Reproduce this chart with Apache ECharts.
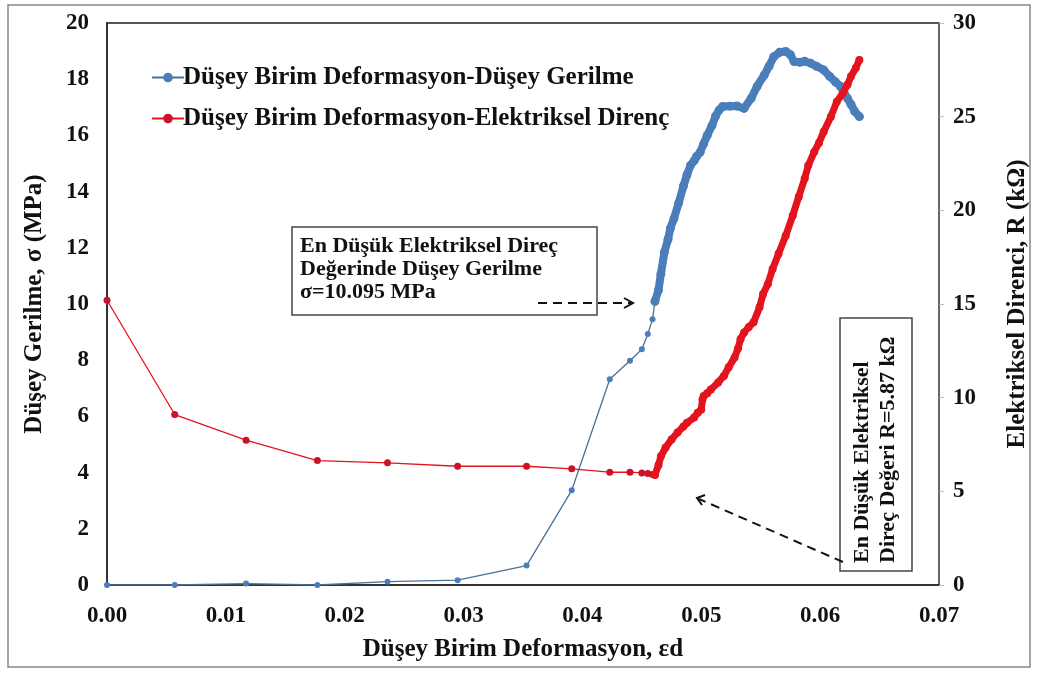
<!DOCTYPE html>
<html>
<head>
<meta charset="utf-8">
<script src="https://cdn.jsdelivr.net/npm/echarts@6/dist/echarts.min.js"></script>
<style>
  html, body { margin: 0; padding: 0; background: #fff; }
  #chart { width: 1038px; height: 678px; }
</style>
</head>
<body>
<div id="chart"></div>
<script>
// sparse readings (shared strain steps)
const strainLow = [0, 0.0057, 0.0117, 0.0177, 0.0236, 0.0295, 0.0353, 0.0391, 0.0423, 0.0440, 0.0450, 0.0455, 0.0459, 0.0461];
const stressLow = [0, 0, 0.05, 0, 0.12, 0.17, 0.69, 3.37, 7.32, 7.98, 8.39, 8.93, 9.46, 10.095];
const resistLow = [15.2, 9.1, 7.73, 6.64, 6.52, 6.34, 6.34, 6.2, 6.02, 6.02, 5.98, 5.95, 5.9, 5.87];

// dense readings after the minimum resistance
const strainStressHigh = [0.0461, 0.0464, 0.0466, 0.0469, 0.0472, 0.0474, 0.0477, 0.0481, 0.0485, 0.0488,
  0.0491, 0.0494, 0.0496, 0.0499, 0.0502, 0.0505, 0.0509, 0.0512, 0.0515, 0.0518, 0.0524, 0.0530, 0.0536,
  0.0542, 0.0547, 0.0553, 0.0557, 0.0561, 0.0566, 0.0571, 0.0575, 0.0578, 0.0583, 0.0587, 0.0592, 0.0597,
  0.0603, 0.0608, 0.0613, 0.0617, 0.0620, 0.0623, 0.0626, 0.0629, 0.0633];
const stressHigh = [10.095, 10.5, 11.07, 11.85, 12.3, 12.7, 13.04, 13.6, 14.2, 14.6,
  14.94, 15.1, 15.25, 15.4, 15.7, 16.0, 16.35, 16.68, 16.9, 17.03, 17.04, 17.05, 16.96,
  17.32, 17.75, 18.15, 18.46, 18.8, 18.96, 18.99, 18.87, 18.63, 18.6, 18.64, 18.57, 18.46,
  18.33, 18.1, 17.9, 17.75, 17.53, 17.32, 17.1, 16.86, 16.67];

const strainResistHigh = [0.0461, 0.0464, 0.0466, 0.0470, 0.0475, 0.0480, 0.0485, 0.0488, 0.0494, 0.0497,
  0.0500, 0.0501, 0.0502, 0.0505, 0.0508, 0.0514, 0.0519, 0.0523, 0.0528, 0.0531, 0.0533, 0.0536, 0.0540,
  0.0544, 0.0549, 0.0552, 0.0556, 0.0560, 0.0565, 0.0571, 0.0577, 0.0582, 0.0587, 0.0590, 0.0595, 0.0599,
  0.0603, 0.0609, 0.0614, 0.0619, 0.0623, 0.0626, 0.0630, 0.0633];
const resistHigh = [5.87, 6.4, 6.87, 7.34, 7.77, 8.14, 8.46, 8.66, 8.94, 9.2,
  9.37, 9.9, 10.09, 10.23, 10.44, 10.8, 11.16, 11.62, 12.14, 12.64, 13.12, 13.48, 13.77,
  14.02, 14.82, 15.53, 16.07, 16.87, 17.68, 18.64, 19.73, 20.73, 21.7, 22.39, 23.12, 23.6,
  24.2, 25.0, 25.8, 26.25, 26.7, 27.16, 27.6, 28.03];

const nameStress = 'Düşey Birim Deformasyon-Düşey Gerilme';
const nameResist = 'Düşey Birim Deformasyon-Elektriksel Direnç';
const blue = '#4a7ebb';
const red = '#e3141e';
const font = '"Liberation Serif", "Times New Roman", serif';

function zip(xs, ys) {
  return xs.map((x, i) => [x, ys[i]]);
}

const chart = echarts.init(document.getElementById('chart'));

const tickLabel = {fontFamily: font, fontWeight: 'bold', fontSize: 23, color: '#111'};
const axisName = {fontFamily: font, fontWeight: 'bold', fontSize: 25, color: '#111'};

chart.setOption({
  animation: false,
  backgroundColor: '#fff',
  grid: {left: 107, right: 96, top: 23, bottom: 93, show: true, borderColor: '#555', borderWidth: 2},
  legend: {
    left: 146, top: 60, orient: 'vertical', itemGap: 16, itemWidth: 32, itemHeight: 12,
    data: [nameStress, nameResist],
    textStyle: {fontFamily: font, fontWeight: 'bold', fontSize: 25, color: '#111', padding: [0, 0, 0, -6]}
  },
  xAxis: {
    type: 'value', min: 0, max: 0.07, interval: 0.01,
    name: 'Düşey Birim Deformasyon, εd', nameLocation: 'middle', nameGap: 52, nameTextStyle: axisName,
    axisLine: {lineStyle: {color: '#333', width: 2}},
    axisTick: {show: false},
    splitLine: {show: false},
    axisLabel: Object.assign({margin: 20, formatter: v => v.toFixed(2)}, tickLabel)
  },
  yAxis: [
    {
      type: 'value', min: 0, max: 20, interval: 2,
      name: 'Düşey Gerilme, σ (MPa)', nameLocation: 'middle', nameGap: 60, nameTextStyle: axisName,
      axisLine: {show: true, lineStyle: {color: '#333', width: 2}},
      axisTick: {show: false},
      splitLine: {show: false},
      axisLabel: Object.assign({margin: 18}, tickLabel)
    },
    {
      type: 'value', min: 0, max: 30, interval: 5, position: 'right',
      name: 'Elektriksel Direnci, R (kΩ)', nameLocation: 'middle', nameGap: 66, nameTextStyle: axisName,
      axisLine: {show: true, lineStyle: {color: '#666', width: 2}},
      axisTick: {show: true, length: 5, lineStyle: {color: '#bbb'}},
      splitLine: {show: false},
      axisLabel: Object.assign({margin: 14}, tickLabel)
    }
  ],
  series: [
    {
      name: nameStress, type: 'line', yAxisIndex: 0, data: zip(strainLow, stressLow),
      symbol: 'circle', symbolSize: 6, itemStyle: {color: blue},
      lineStyle: {color: '#4d6f92', width: 1.3}, z: 3
    },
    {
      name: nameStress, type: 'line', yAxisIndex: 0, data: zip(strainStressHigh, stressHigh),
      symbol: 'circle', symbolSize: 9, itemStyle: {color: blue},
      lineStyle: {color: blue, width: 8, join: 'round', cap: 'round'}, z: 3
    },
    {
      name: nameResist, type: 'line', yAxisIndex: 1, data: zip(strainLow, resistLow),
      symbol: 'circle', symbolSize: 7, itemStyle: {color: '#cc1226'},
      lineStyle: {color: red, width: 1.3}, z: 4
    },
    {
      name: nameResist, type: 'line', yAxisIndex: 1, data: zip(strainResistHigh, resistHigh),
      symbol: 'circle', symbolSize: 8, itemStyle: {color: red},
      lineStyle: {color: red, width: 7, join: 'round', cap: 'round'}, z: 4
    }
  ],
  graphic: [
    // outer frame
    {type: 'rect', shape: {x: 8, y: 5, width: 1022, height: 662}, style: {fill: 'none', stroke: '#888', lineWidth: 1.5}, z: 1},
    // box 1
    {type: 'rect', shape: {x: 292, y: 227, width: 305, height: 88}, style: {fill: '#fff', stroke: '#444', lineWidth: 1.5}, z: 5},
    {type: 'text', x: 300, y: 235, z: 6, style: {
      text: 'En Düşük Elektriksel Direç\nDeğerinde Düşey Gerilme\nσ=10.095 MPa',
      font: 'bold 22px ' + font, fill: '#111', lineHeight: 23
    }},
    {type: 'line', shape: {x1: 538, y1: 303, x2: 631, y2: 303}, style: {stroke: '#111', lineWidth: 2, lineDash: [9, 6]}, z: 7},
    {type: 'polyline', shape: {points: [[624, 298], [633, 303], [624, 308]]}, style: {stroke: '#111', lineWidth: 2, fill: 'none'}, z: 7},
    // box 2
    {type: 'rect', shape: {x: 840, y: 318, width: 72, height: 253}, style: {fill: '#fff', stroke: '#444', lineWidth: 1.5}, z: 5},
    {type: 'text', x: 862, y: 563, rotation: Math.PI / 2, z: 6, style: {
      text: 'En Düşük Elektriksel', font: 'bold 22px ' + font, fill: '#111', textVerticalAlign: 'middle', textAlign: 'left'
    }},
    {type: 'text', x: 888, y: 563, rotation: Math.PI / 2, z: 6, style: {
      text: 'Direç Değeri R=5.87 kΩ', font: 'bold 22px ' + font, fill: '#111', textVerticalAlign: 'middle', textAlign: 'left'
    }},
    {type: 'line', shape: {x1: 843, y1: 562, x2: 699, y2: 499}, style: {stroke: '#111', lineWidth: 2, lineDash: [9, 6]}, z: 7},
    {type: 'polyline', shape: {points: [[705, 495], [697, 498], [702, 505]]}, style: {stroke: '#111', lineWidth: 2, fill: 'none'}, z: 7}
  ]
});

window.addEventListener('resize', () => {
  chart.resize();
});
</script>
</body>
</html>
